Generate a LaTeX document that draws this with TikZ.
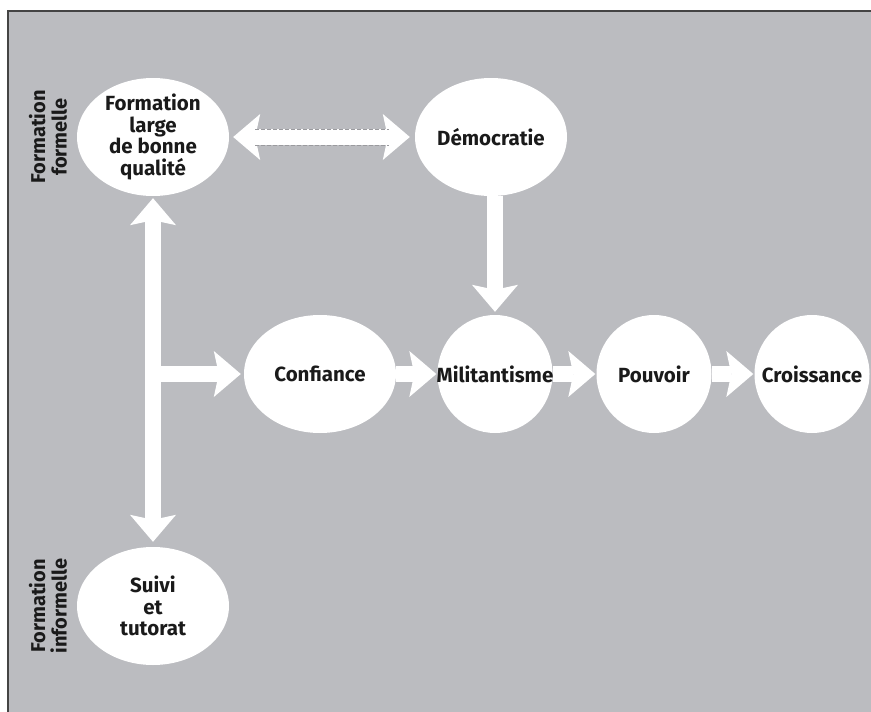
\documentclass[tikz,border=0pt]{standalone}
\usepackage{fontspec}
\setmainfont{Fira Sans}
\usetikzlibrary{shapes.geometric,arrows.meta}

\definecolor{boxgray}{HTML}{BBBCC0}
\definecolor{edgegray}{HTML}{444444}
\definecolor{dashgray}{HTML}{9A9A9E}
\definecolor{inkblack}{HTML}{1A1A1A}

\tikzset{
  bubble/.style={ellipse, fill=white, minimum width=152pt, minimum height=118pt,
    inner sep=-14pt, align=center, text=inkblack,
    font=\fontsize{20.5}{21.5}\selectfont\bfseries},
  roundbubble/.style={bubble, minimum width=115pt, inner xsep=-22pt},
  sidelabel/.style={rotate=90, align=center, text=inkblack,
    font=\fontsize{20}{21.5}\selectfont\bfseries},
  bigtip/.tip={Stealth[width=46pt,length=27pt,inset=5pt,line width=0pt]},
  bigarrow/.style={draw=white, line width=16pt, -bigtip},
  twowayarrow/.style={bigarrow, bigtip-bigtip},
  dashline/.style={draw=dashgray, line width=0.9pt, dash pattern=on 4pt off 2pt}
}

\begin{document}
\begin{tikzpicture}[x=1pt,y=-1pt]
		\useasboundingbox (0,0) rectangle (871,712);
		\fill[boxgray] (8,11) rectangle (871,712);
		\draw[edgegray, line width=1.6pt] (8,712) -- (8,11) -- (871,11);

		\node[bubble] (formation) at (153,137) {Formation\\large\\de bonne\\qualit\'e};
		\node[bubble] (democratie) at (491,137) {D\'emocratie};
		\node[bubble] (confiance) at (320,374) {Confiance};
		\node[roundbubble] (militantisme) at (495,374) {Militantisme};
		\node[roundbubble] (pouvoir) at (654,374) {Pouvoir};
		\node[roundbubble] (croissance) at (812,374) {Croissance};
		\node[bubble] (suivi) at (153,606) {Suivi\\et\\tutorat};

		\node[sidelabel] (formelle) at (48,137) {Formation\\formelle};
		\node[sidelabel] (informelle) at (48,606) {Formation\\informelle};

		\coordinate (branch) at (formation.south |- confiance.west);

		\draw[twowayarrow, shorten <=2pt, shorten >=5pt] (formation.south) -- (suivi.north);
		\draw[bigarrow, shorten >=3pt] (branch) -- (confiance.west);
		\draw[bigarrow, shorten >=1pt] (confiance.east) -- (militantisme.west);
		\draw[bigarrow, shorten >=1pt] (militantisme.east) -- (pouvoir.west);
		\draw[bigarrow, shorten >=1pt] (pouvoir.east) -- (croissance.west);
		\draw[bigarrow, shorten >=3pt] (democratie.south -| militantisme.north) -- (militantisme.north);

		\draw[twowayarrow, shorten <=4pt, shorten >=5pt] (formation.east) -- (democratie.west);
		\draw[dashline, shorten <=26pt, shorten >=26pt, transform canvas={yshift=8pt}] (formation.east) -- (democratie.west);
		\draw[dashline, shorten <=26pt, shorten >=26pt, transform canvas={yshift=-8pt}] (formation.east) -- (democratie.west);
	\end{tikzpicture}
\end{document}
